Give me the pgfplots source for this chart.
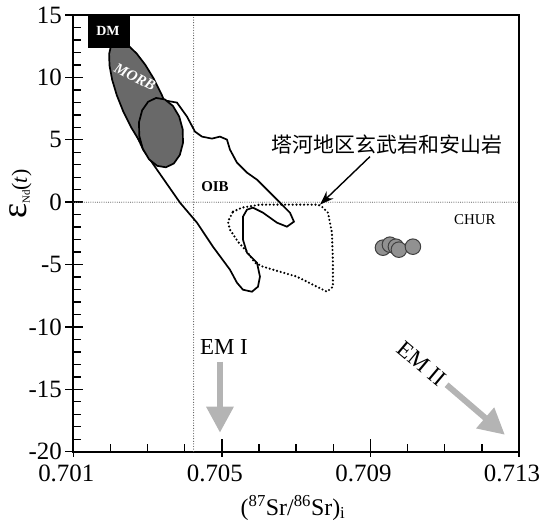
\documentclass[border=0pt]{standalone}
\usepackage{fontspec}
\setmainfont{Liberation Serif}
\newfontfamily\cjk{Noto Sans CJK SC}
\usepackage{pgfplots}
\pgfplotsset{compat=1.18}
\usetikzlibrary{arrows.meta}
\definecolor{morbgray}{RGB}{105,105,105}
\definecolor{dotgray}{RGB}{145,145,145}
\definecolor{emgray}{RGB}{180,180,180}
\begin{document}
\begin{tikzpicture}
\begin{axis}[
  scale only axis, width=445.7bp, height=436.7bp,
  xmin=0.701, xmax=0.713, ymin=-20, ymax=15,
  axis line style={line width=1.6bp},
  xtick={0.701,0.705,0.709,0.713},
  xticklabels={0.701,0.705,0.709,0.713},
  minor xtick={0.702,0.703,0.704,0.706,0.707,0.708,0.710,0.711,0.712},
  ytick={-20,-15,-10,-5,0,5,10,15},
  yticklabels={{-20},{-15},{-10},{-5},{0},{5},{10},{15}},
  minor ytick={-19,-18,...,14},
  xtick pos=bottom, ytick pos=left,
  tick align=inside,
  major tick length=18bp, minor tick length=8bp,
  every tick/.style={black, line width=1.4bp},
  every major x tick/.append style={yshift=-5bp},
  every major y tick/.append style={xshift=-8bp},
  tick label style={font=\fontsize{25}{25}\selectfont},
  yticklabel style={xshift=-8bp},
  xticklabel style={yshift=-10bp, xshift=-7bp},
  xlabel={(\textsuperscript{87}Sr/\textsuperscript{86}Sr)\textsubscript{i}},
  xlabel style={font=\fontsize{24}{24}\selectfont, at={(axis description cs:0.493,-0.128)}, anchor=center},
  ylabel={{\fontsize{36}{36}\selectfont ε}{\fontsize{11}{11}\selectfont\raisebox{-3bp}{Nd}}{\fontsize{22}{22}\selectfont(\textit{t})}},
  ylabel style={at={(axis description cs:-0.118,0.59)}, anchor=center},
]
% reference lines
\addplot[black!55, line width=1.2bp, dash pattern=on 0pt off 2.2bp, line cap=round] coordinates {(0.701,0) (0.713,0)};
\addplot[black!65, line width=1.2bp, dash pattern=on 0pt off 2.6bp, line cap=round] coordinates {(0.70424,-20) (0.70424,15)};
% OIB field
\addplot[black, line width=1.7bp] coordinates {
(0.703334,8.22) (0.703791,7.979) (0.704061,6.856) (0.704276,5.654) (0.704464,5.253)
(0.704733,5.092) (0.704949,5.253) (0.705137,5.012) (0.705218,4.210) (0.705406,3.168)
(0.705676,2.366) (0.705945,1.804) (0.706295,0.762) (0.706564,-0.040) (0.706833,-0.842)
(0.706941,-1.564) (0.706752,-1.965) (0.706483,-1.644) (0.706106,-0.842) (0.705837,-0.441)
(0.705676,-0.601) (0.705568,-1.163) (0.705568,-3.007) (0.705676,-4.050) (0.705945,-4.852)
(0.706026,-5.974) (0.705972,-6.776) (0.705810,-7.177) (0.705568,-7.017) (0.705406,-6.455)
(0.705218,-5.413) (0.704760,-3.569) (0.704330,-1.644) (0.703872,-0.040) (0.703253,2.606)
(0.702880,4.211) (0.702609,5.974)
} -- cycle;
% Tahe field (dotted)
\addplot[black, line width=2.4bp, dash pattern=on 0pt off 3.8bp, line cap=round] coordinates {
(0.705299,-0.762) (0.705541,-0.441) (0.706026,-0.200) (0.707587,-0.200) (0.707694,-0.361)
(0.707856,-0.842) (0.707964,-2.446) (0.707990,-4.852) (0.707990,-6.776) (0.707829,-7.177)
(0.707452,-6.616) (0.707022,-5.974) (0.706564,-5.573) (0.706106,-5.172) (0.705891,-4.852)
(0.705676,-3.970) (0.705433,-3.168) (0.705218,-2.205) (0.705164,-1.564)
} -- cycle;
% MORB
\addplot[fill=morbgray, draw=black, line width=1.7bp] coordinates {
(0.703603,3.004) (0.703712,3.350) (0.703762,4.009) (0.703751,4.936) (0.703680,6.066)
(0.703553,7.325) (0.703379,8.626) (0.703169,9.881) (0.702940,11.002) (0.702705,11.914)
(0.702480,12.557) (0.702282,12.884) (0.702123,12.874) (0.702014,12.528) (0.701964,11.869)
(0.701975,10.942) (0.702046,9.812) (0.702173,8.553) (0.702347,7.252) (0.702557,5.997)
(0.702786,4.876) (0.703021,3.964) (0.703246,3.321) (0.703444,2.994)
} -- cycle;
\addplot[fill=morbgray, draw=black, line width=1.7bp] coordinates {
(0.703493,2.794) (0.703707,3.100) (0.703868,3.783) (0.703953,4.737) (0.703947,5.820)
(0.703851,6.865) (0.703682,7.713) (0.703463,8.236) (0.703229,8.352) (0.703015,8.046)
(0.702854,7.363) (0.702769,6.409) (0.702775,5.326) (0.702871,4.281) (0.703040,3.433)
(0.703259,2.910)
} -- cycle;
% DM box
\addplot[fill=black, draw=black] coordinates {(0.7014,12.4) (0.7025,12.4) (0.7025,15) (0.7014,15)} -- cycle;
% samples
\addplot[only marks, mark=*, mark size=7.8pt, mark options={fill=dotgray, draw=black!75, line width=1bp}] coordinates {
(0.709337,-3.649) (0.709525,-3.408) (0.709686,-3.569) (0.709767,-3.809) (0.710144,-3.569)
};
% labels
\node[text=white, font=\bfseries\fontsize{14}{14}\selectfont] at (axis cs:0.701934,13.75) {DM};
\node[text=white, rotate=-27, font=\bfseries\itshape\fontsize{15}{15}\selectfont] at (axis cs:0.702661,10.05) {MORB};
\node[font=\bfseries\fontsize{15}{15}\selectfont] at (axis cs:0.704814,1.27) {OIB};
\node[font=\fontsize{15}{15}\selectfont] at (axis cs:0.711813,-1.40) {CHUR};
\node[font=\cjk\fontsize{21}{21}\selectfont] at (axis cs:0.709444,4.611) {塔河地区玄武岩和安山岩};
\draw[-{Stealth[length=14bp,width=10bp]}, line width=1.4bp] (axis cs:0.708987,3.649) -- (axis cs:0.707641,-0.2);
\node[font=\fontsize{23}{23}\selectfont] at (axis cs:0.705057,-11.59) {EM I};
\draw[emgray, line width=6bp, -{Triangle[length=26bp,width=26bp]}] (axis cs:0.704949,-12.79) -- (axis cs:0.704949,-18.48);
\node[rotate=-40, font=\fontsize{23}{23}\selectfont] at (axis cs:0.710380,-12.95) {EM II};
\draw[emgray, line width=6bp, -{Triangle[length=26bp,width=26bp]}] (axis cs:0.711051,-14.635) -- (axis cs:0.712620,-18.645);
\end{axis}
\pgfresetboundingbox
\path[use as bounding box] ([xshift=-73.3bp,yshift=-69.3bp]current axis.south west) rectangle ([xshift=23bp,yshift=15bp]current axis.north east);
\end{tikzpicture}
\end{document}
